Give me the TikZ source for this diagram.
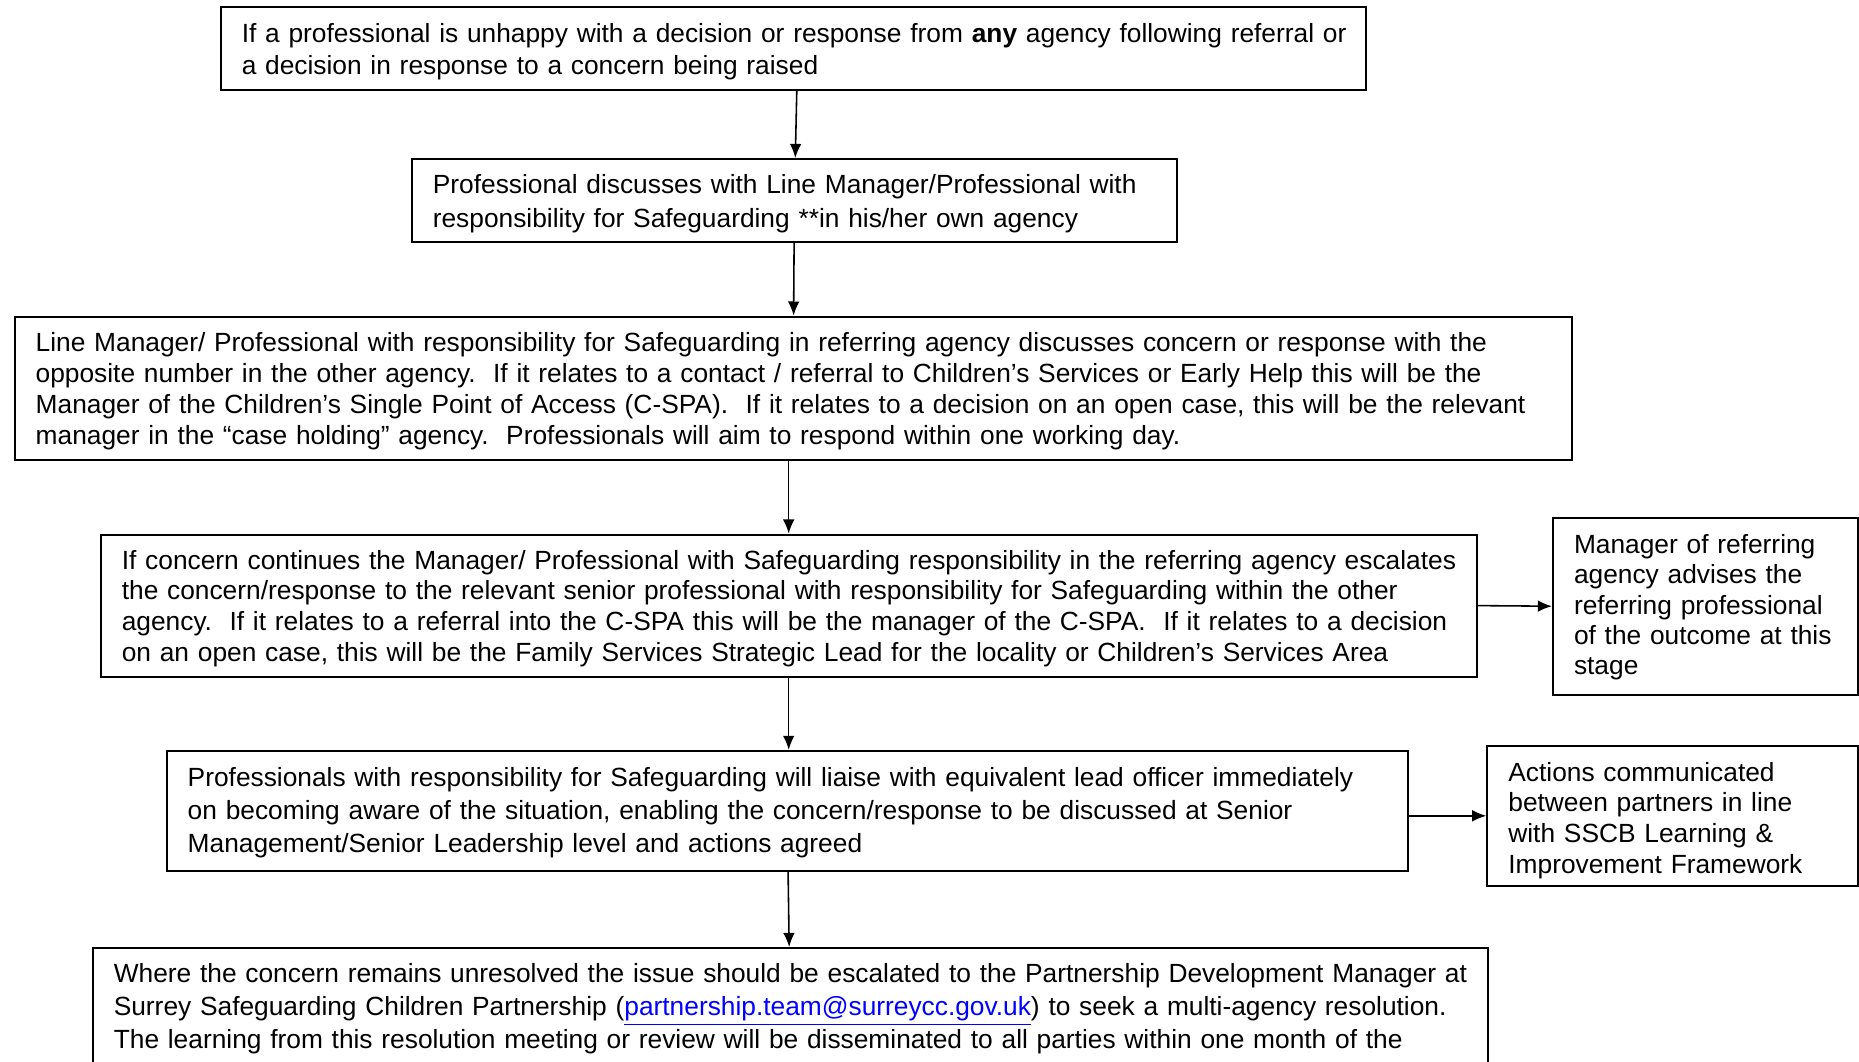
\documentclass[tikz,border=0pt]{standalone}
\usepackage{fontspec}
\setmainfont{Liberation Sans}
\usepackage{xcolor}
\usepackage{tikz}
\usetikzlibrary{arrows.meta}

\hyphenpenalty=10000
\newcommand{\boxfont}[1]{\fontsize{11.75}{#1}\selectfont}
\newcommand{\nowrap}{\rightskip=-15pt plus 1fil\relax}
\newcommand{\maillink}[1]{\textcolor{blue}{\underline{#1}}}

\begin{document}
\begin{tikzpicture}[x=0.4464pt, y=-0.4464pt,
    box/.style={draw, line width=0.9pt, align=left, inner xsep=9.4pt, inner ysep=0pt},
    arr/.style={-{Latex[length=6.3pt,width=5.2pt]}, line width=0.7pt}]
        \useasboundingbox (0,0) rectangle (1859,1061);
        \clip (0,0) rectangle (1859,1061);
        % 绘制流程框
        \node[box, text width=492.3pt, minimum height=37.05pt, text height=11.2pt, font=\boxfont{14.2}] (b1) at (793.2,48.5)
            {\nowrap If a professional is unhappy with a decision or response from \textbf{any} agency following referral or\\
             a decision in response to a concern being raised};
        \node[box, text width=322.8pt, minimum height=37.05pt, text height=11.2pt, font=\boxfont{14.9}] (b2) at (794.4,200.5)
            {\nowrap Professional discusses with Line Manager/Professional with\\
             responsibility for Safeguarding **in his/her own agency};
        \node[box, text width=676.2pt, minimum height=64pt, text height=11.2pt, font=\boxfont{13.8}] (b3) at (793.1,388.3)
            {\nowrap Line Manager/ Professional with responsibility for Safeguarding in referring agency discusses concern or response with the\\
             opposite number in the other agency.\ \ If it relates to a contact / referral to Children’s Services or Early Help this will be the\\
             Manager of the Children’s Single Point of Access (C-SPA).\ \ If it relates to a decision on an open case, this will be the relevant\\
             manager in the “case holding” agency.\ \ Professionals will aim to respond within one working day.};
        \node[box, text width=595.4pt, minimum height=63.4pt, text height=11.2pt, font=\boxfont{13.8}] (b4) at (788.7,605.6)
            {\nowrap If concern continues the Manager/ Professional with Safeguarding responsibility in the referring agency escalates\\
             the concern/response to the relevant senior professional with responsibility for Safeguarding within the other\\
             agency.\ \ If it relates to a referral into the C-SPA this will be the manager of the C-SPA.\ \ If it relates to a decision\\
             on an open case, this will be the Family Services Strategic Lead for the locality or Children’s Services Area};
        \node[box, text width=535.2pt, minimum height=53.6pt, text height=10pt, font=\boxfont{14.85}] (b5) at (787.2,810.9)
            {\nowrap Professionals with responsibility for Safeguarding will liaise with equivalent lead officer immediately\\
             on becoming aware of the situation, enabling the concern/response to be discussed at Senior\\
             Management/Senior Leadership level and actions agreed};
        \node[box, text width=603.9pt, inner ysep=7pt, text depth=40pt, anchor=north, font=\boxfont{14.6}] (b6) at (790.2,947)
            {\nowrap Where the concern remains unresolved the issue should be escalated to the Partnership Development Manager at\\
             Surrey Safeguarding Children Partnership (\maillink{partnership.team@surreycc.gov.uk}) to seek a multi-agency resolution.\\
             The learning from this resolution meeting or review will be disseminated to all parties within one month of the};
        % 右侧框
        \node[box, text width=117.4pt, minimum height=79.1pt, text height=9.5pt, font=\boxfont{13.5}] (s1) at (1705.5,606.2)
            {\nowrap Manager of referring\\ agency advises the\\ referring professional\\ of the outcome at this\\ stage};
        \node[box, text width=146.7pt, minimum height=62.7pt, text height=12.6pt, font=\boxfont{13.65}] (s2) at (1672.7,815.8)
            {\nowrap Actions communicated\\ between partners in line\\ with SSCB Learning \&\\ Improvement Framework};
        % 绘制箭头
        \draw[arr] ([xshift=1.6pt]b1.south) -- ([xshift=0.4pt]b2.north);
        \draw[arr] (b2) -- (b3);
        \draw[arr] (b4.north |- b3.south) -- (b4.north);
        \draw[arr] (b4.south) -- (b4.south |- b5.north);
        \draw[arr] (b5) -- (b6);
        \draw[arr] (b4.east) -- (s1.west);
        \draw[arr] (s2.west -| b5.east) -- (s2.west);
    \end{tikzpicture}
\end{document}
